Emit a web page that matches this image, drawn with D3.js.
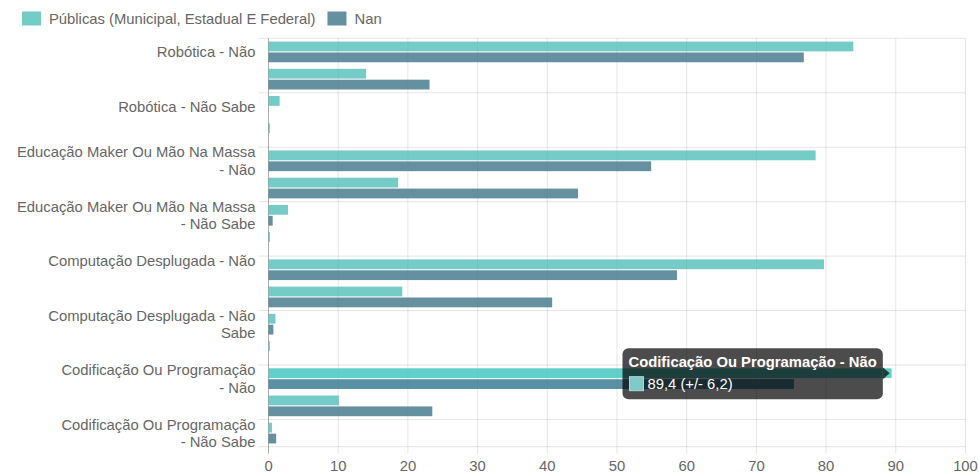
<!DOCTYPE html>
<html>
<head>
<meta charset="utf-8">
<script src="https://cdn.jsdelivr.net/npm/d3@7"></script>
<style>
  body { margin: 0; background: #fff; }
  svg { font-family: "Liberation Sans", Arial, sans-serif; }
</style>
</head>
<body>
<div id="chart"></div>
<script>
// categories (every other label is skipped on the axis)
var categories = [
    "Robótica - Não", "Robótica - Sim", "Robótica - Não Sabe", "Robótica - Nan",
    "Educação Maker Ou Mão Na Massa - Não", "Educação Maker Ou Mão Na Massa - Sim",
    "Educação Maker Ou Mão Na Massa - Não Sabe", "Educação Maker Ou Mão Na Massa - Nan",
    "Computação Desplugada - Não", "Computação Desplugada - Sim",
    "Computação Desplugada - Não Sabe", "Computação Desplugada - Nan",
    "Codificação Ou Programação - Não", "Codificação Ou Programação - Sim",
    "Codificação Ou Programação - Não Sabe"
];
var seriesNames = ["Públicas (Municipal, Estadual E Federal)", "Nan"];
var publicas = [83.9, 14.0, 1.6, 0.2, 78.5, 18.6, 2.8, 0.2, 79.7, 19.2, 1.0, 0.2, 89.4, 10.1, 0.5];
var nanVals  = [76.8, 23.1, 0.0, 0.0, 54.9, 44.4, 0.6, 0.0, 58.6, 40.7, 0.7, 0.0, 75.4, 23.5, 1.1];
var xTicks = [0, 10, 20, 30, 40, 50, 60, 70, 80, 90, 100];

// tooltip that is open in the picture
var hoverIndex = 12;
var hoverMargin = 6.2;

var colors = ["rgba(64,184,176,0.72)", "rgba(70,122,140,0.83)"];
var hoverColors = ["rgba(70,200,192,0.85)", "rgba(60,125,150,0.85)"];
var fs = "14.8px";

var W = 979, H = 475;
var margin = {top: 38.3, right: 14, bottom: 28.3, left: 268.5};
var width = 965.5 - margin.left,
    height = 446.7 - margin.top;

var svg = d3.select("#chart").append("svg")
    .attr("width", W).attr("height", H);

var g = svg.append("g")
    .attr("transform", "translate(" + margin.left + "," + margin.top + ")");

var x = d3.scaleLinear().domain([0, 100]).range([0, width]);
var y = d3.scaleBand().domain(categories).range([0, height]).padding(0);
var bw = y.bandwidth();
var sub = d3.scaleBand().domain([0, 1])
    .range([0.1 * bw, 0.9 * bw]).paddingInner(0.1).paddingOuter(0.05);

// vertical grid lines
g.append("g").selectAll("line")
    .data(xTicks).enter().append("line")
    .attr("x1", function(d) { return x(d); })
    .attr("x2", function(d) { return x(d); })
    .attr("y1", 0).attr("y2", height + 7)
    .attr("stroke", "rgba(0,0,0,0.1)");

// horizontal grid lines, only at shown ticks + bottom
var hLines = categories.filter(function(d, i) { return i % 2 === 0; })
    .map(function(d) { return y(d); });
hLines.push(height);
g.append("g").selectAll("line")
    .data(hLines).enter().append("line")
    .attr("x1", -10).attr("x2", width)
    .attr("y1", function(d) { return d; })
    .attr("y2", function(d) { return d; })
    .attr("stroke", "rgba(0,0,0,0.1)");

// left axis line
g.append("line")
    .attr("x1", 0).attr("x2", 0)
    .attr("y1", 0).attr("y2", height + 7)
    .attr("stroke", "rgba(0,0,0,0.25)");

// bars
var series = [publicas, nanVals];
series.forEach(function(vals, s) {
    g.append("g").selectAll("rect")
        .data(vals).enter().append("rect")
        .attr("x", x(0))
        .attr("y", function(d, i) { return y(categories[i]) + sub(s); })
        .attr("width", function(d) { return x(d) - x(0); })
        .attr("height", sub.bandwidth())
        .attr("fill", function(d, i) { return i === hoverIndex ? hoverColors[s] : colors[s]; });
});

// x tick labels
g.append("g").selectAll("text")
    .data(xTicks).enter().append("text")
    .attr("x", function(d) { return x(d); })
    .attr("y", height + 24)
    .attr("text-anchor", "middle")
    .attr("fill", "#666")
    .style("font-size", fs)
    .text(function(d) { return d; });

// y labels: break a line once it gets longer than n chars
function wrap(s, n) {
    var words = s.split(" "), lines = [], cur = "";
    words.forEach(function(w) {
        cur = cur ? cur + " " + w : w;
        if (cur.length > n) { lines.push(cur); cur = ""; }
    });
    lines.push(cur);
    return lines;
}
var lineH = 17.4;
categories.forEach(function(c, i) {
    if (i % 2 !== 0) return;
    var lines = wrap(c, 24);
    var cy = y(c) + bw / 2 - (lines.length - 1) * lineH / 2;
    var t = g.append("text")
        .attr("text-anchor", "end")
        .attr("fill", "#666")
        .style("font-size", fs);
    lines.forEach(function(l, k) {
        t.append("tspan")
            .attr("x", -13)
            .attr("y", cy + k * lineH)
            .attr("dy", "0.35em")
            .text(l);
    });
});

// legend
var lx = 22;
seriesNames.forEach(function(n, s) {
    svg.append("rect")
        .attr("x", lx).attr("y", 11.5)
        .attr("width", 19).attr("height", 14)
        .attr("fill", colors[s]);
    var t = svg.append("text")
        .attr("x", lx + 27).attr("y", 23.5)
        .attr("fill", "#666")
        .style("font-size", fs)
        .text(n);
    lx += 27 + t.node().getComputedTextLength() + 12;
});

// tooltip
var tipX = margin.left + x(publicas[hoverIndex]) - 2;
var tipY = margin.top + y(categories[hoverIndex]) + sub(0) + sub.bandwidth() / 2;
var tip = svg.append("g");
var title = tip.append("text")
    .attr("fill", "#fff")
    .style("font-size", fs)
    .style("font-weight", "bold")
    .text(categories[hoverIndex]);
var tw = title.node().getComputedTextLength();
var boxW = tw + 12, boxH = 51;
var bx = tipX - 6.8 - boxW, by = tipY - 25;
tip.insert("path", "text")
    .attr("d", "M" + (bx + boxW) + "," + (tipY - 6) + "L" + tipX + "," + tipY + "L" + (bx + boxW) + "," + (tipY + 6) + "Z")
    .attr("fill", "rgba(0,0,0,0.7)");
tip.insert("rect", "text")
    .attr("x", bx).attr("y", by)
    .attr("width", boxW).attr("height", boxH)
    .attr("rx", 6)
    .attr("fill", "rgba(0,0,0,0.7)");
title.attr("x", bx + 6).attr("y", by + 18.5);
tip.append("rect")
    .attr("x", bx + 7).attr("y", by + 28.5)
    .attr("width", 14).attr("height", 14)
    .attr("fill", "#7fcac4")
    .attr("stroke", "#a9dcd8");
var fmt = function(v) { return String(v.toFixed(1)).replace(".", ","); };
tip.append("text")
    .attr("x", bx + 25).attr("y", by + 41)
    .attr("fill", "#fff")
    .style("font-size", fs)
    .text(fmt(publicas[hoverIndex]) + " (+/- " + fmt(hoverMargin) + ")");
</script>
</body>
</html>
